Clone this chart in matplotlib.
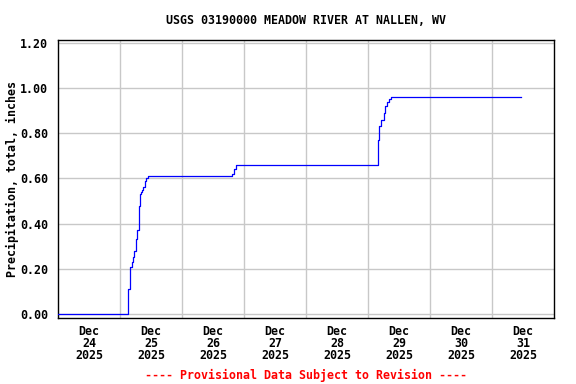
import pandas as pd
import matplotlib
matplotlib.use("Agg")
import matplotlib.pyplot as plt

# cumulative precipitation readings (inches)
times = ["2025-12-24 00:00", "2025-12-25 03:15", "2025-12-25 03:45", "2025-12-25 04:30",
         "2025-12-25 05:00", "2025-12-25 05:30", "2025-12-25 06:00", "2025-12-25 06:30",
         "2025-12-25 07:15", "2025-12-25 07:30", "2025-12-25 07:45", "2025-12-25 08:00",
         "2025-12-25 08:30", "2025-12-25 09:00", "2025-12-25 09:30", "2025-12-25 10:15",
         "2025-12-25 11:00", "2025-12-26 19:30", "2025-12-26 20:00", "2025-12-26 21:00",
         "2025-12-29 04:00", "2025-12-29 04:15", "2025-12-29 05:00", "2025-12-29 05:30",
         "2025-12-29 06:15", "2025-12-29 06:45", "2025-12-29 07:30", "2025-12-29 08:00",
         "2025-12-29 08:45", "2025-12-31 11:15"]
precip = [0.00, 0.11, 0.21, 0.23,
          0.25, 0.28, 0.33, 0.37,
          0.40, 0.48, 0.53, 0.54,
          0.55, 0.56, 0.59, 0.60,
          0.61, 0.62, 0.64, 0.66,
          0.77, 0.83, 0.86, 0.86,
          0.89, 0.92, 0.94, 0.95,
          0.96, 0.96]

day_labels = ["Dec\n24\n2025", "Dec\n25\n2025", "Dec\n26\n2025", "Dec\n27\n2025",
              "Dec\n28\n2025", "Dec\n29\n2025", "Dec\n30\n2025", "Dec\n31\n2025"]
y_ticks = [0.0, 0.2, 0.4, 0.6, 0.8, 1.0, 1.2]

t = pd.to_datetime(times)
font = {"family": "DejaVu Sans Mono", "weight": "bold", "size": 8.4}

fig = plt.figure(figsize=(5.76, 3.84), dpi=100)
ax = fig.add_axes([58 / 576, 1 - 318 / 384, 496 / 576, 278 / 384])

ax.plot(t, precip, color="#0000ff", lw=0.9, drawstyle="steps-post", zorder=3)

start = pd.Timestamp("2025-12-24")
ax.set_xlim(start, pd.Timestamp("2026-01-01"))
ax.set_ylim(-0.018, 1.213)

noons = [start + pd.Timedelta(days=i, hours=12) for i in range(8)]
mids = [start + pd.Timedelta(days=i) for i in range(1, 8)]
ax.set_xticks(noons)
ax.set_xticklabels(day_labels, linespacing=0.9, **font)
ax.set_xticks(mids, minor=True)
ax.set_yticks(y_ticks)
ax.set_yticklabels(["%.2f" % v for v in y_ticks], **font)
ax.tick_params(axis="both", which="both", length=0)
ax.tick_params(axis="x", pad=5)
ax.tick_params(axis="y", pad=7)

ax.grid(True, axis="y", color="#c8c8c8", lw=1)
ax.grid(True, axis="x", which="minor", color="#c8c8c8", lw=1)
ax.grid(False, axis="x", which="major")
ax.set_axisbelow(True)
for s in ax.spines.values():
    s.set_color("black")
    s.set_linewidth(1)

ax.set_ylabel("Precipitation, total, inches", **font)
ax.yaxis.set_label_coords(-39 / 496, 0.5)
fig.text(306 / 576, 1 - 20 / 384, "USGS 03190000 MEADOW RIVER AT NALLEN, WV",
         ha="center", va="center", **font)
fig.text(306 / 576, 1 - 375 / 384, "---- Provisional Data Subject to Revision ----",
         ha="center", va="center", color="red", **font)

fig.savefig("out.png", dpi=100)
